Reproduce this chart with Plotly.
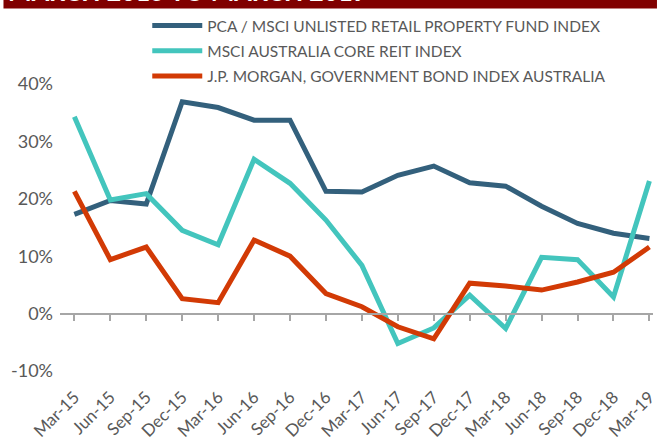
import plotly.graph_objects as go

quarters = ["Mar-15", "Jun-15", "Sep-15", "Dec-15", "Mar-16", "Jun-16", "Sep-16", "Dec-16",
            "Mar-17", "Jun-17", "Sep-17", "Dec-17", "Mar-18", "Jun-18", "Sep-18", "Dec-18", "Mar-19"]

pca_unlisted = [17.3, 19.7, 19.1, 36.9, 35.9, 33.7, 33.7, 21.3, 21.2, 24.1, 25.7, 22.8, 22.2, 18.7, 15.7, 14.0, 13.1]
msci_reit = [34.3, 19.8, 20.9, 14.5, 12.0, 26.9, 22.7, 16.3, 8.4, -5.2, -2.5, 3.2, -2.6, 9.8, 9.4, 2.9, 23.1]
jpm_bond = [21.3, 9.4, 11.6, 2.6, 1.9, 12.8, 10.0, 3.5, 1.2, -2.3, -4.4, 5.3, 4.8, 4.1, 5.5, 7.2, 11.6]

series_names = ["PCA / MSCI UNLISTED RETAIL PROPERTY FUND INDEX",
                "MSCI AUSTRALIA CORE REIT INDEX",
                "J.P. MORGAN, GOVERNMENT BOND INDEX AUSTRALIA"]
series_colors = ["#33607C", "#43C5BD", "#D23A05"]

y_ticks = [-10, 0, 10, 20, 30, 40]
y_tick_labels = [f"{v}%" for v in y_ticks]
title_text = "MARCH 2015 TO MARCH 2019"

x_idx = list(range(len(quarters)))
grey = "#595959"
font_family = "Lato, 'Open Sans', sans-serif"

fig = go.Figure()
for i, (name, vals, col) in enumerate(zip(series_names, [pca_unlisted, msci_reit, jpm_bond], series_colors)):
    fig.add_trace(go.Scatter(x=x_idx, y=vals, name=name, mode="lines", legendgroup=f"g{i}",
                             line=dict(color=col, width=5)))

# invisible helper trace for the zero-crossing category axis (ticks only)
fig.add_trace(go.Scatter(x=x_idx, y=[0] * len(x_idx), xaxis="x2", mode="lines",
                         line=dict(width=0), showlegend=False, hoverinfo="skip"))

y_min, y_max = -10, 40
zero_pos = (0 - y_min) / (y_max - y_min)
x_range = [-0.4, 16.1]

L, R, T, B = 60, 0, 84, 77
H = 448
plot_h = H - T - B
plot_w = 658 - L - R

def px_to_paper_y(py):
    return 1 + (T - py) / plot_h

def px_to_paper_x(px):
    return (px - L) / plot_w

fig.update_layout(
    width=658, height=448,
    margin=dict(l=L, r=R, t=T, b=B),
    paper_bgcolor="white", plot_bgcolor="white",
    font=dict(family=font_family, color=grey),
    showlegend=True,
    legend=dict(x=px_to_paper_x(148), y=px_to_paper_y(9), xanchor="left", yanchor="top",
                xref="paper", yref="paper",
                font=dict(size=15.5, color=grey, family=font_family),
                bgcolor="rgba(0,0,0,0)", borderwidth=0, itemwidth=50,
                tracegroupgap=2),
    xaxis=dict(range=x_range, tickmode="array", tickvals=x_idx, ticktext=quarters,
               tickangle=-45, showgrid=False, zeroline=False, showline=False, ticks="",
               tickfont=dict(size=17, color=grey), ticklabelstandoff=12,
               ticklabeloverflow="allow"),
    xaxis2=dict(range=x_range, overlaying="x", anchor="free", position=zero_pos, side="bottom",
                tickmode="array", tickvals=x_idx, showticklabels=False,
                showgrid=False, zeroline=False, showline=True, linecolor="#A6A6A6", linewidth=2,
                ticks="outside", ticklen=6, tickwidth=2, tickcolor="#A6A6A6"),
    yaxis=dict(range=[y_min, y_max], tickmode="array", tickvals=y_ticks, ticktext=y_tick_labels,
               showgrid=False, zeroline=False, showline=False, ticks="",
               tickfont=dict(size=18, color=grey), ticklabelstandoff=6),
    shapes=[dict(type="rect", xref="paper", yref="paper",
                 x0=px_to_paper_x(3), x1=px_to_paper_x(662),
                 y0=px_to_paper_y(8.5), y1=px_to_paper_y(-10),
                 fillcolor="#800000", line=dict(width=0), layer="above")],
    annotations=[dict(text="<b>" + title_text + "</b>", xref="paper", yref="paper",
                      x=px_to_paper_x(6), y=px_to_paper_y(8), xanchor="left", yanchor="bottom",
                      showarrow=False, font=dict(size=25, color="white", family=font_family))],
)

fig.write_html("out.html")
